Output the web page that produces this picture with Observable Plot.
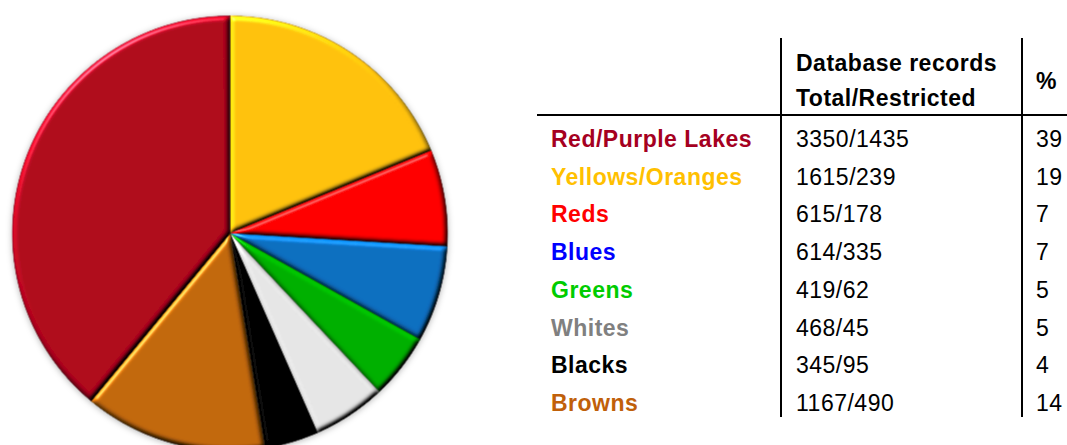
<!DOCTYPE html>
<html>
<head>
<meta charset="utf-8">
<script src="https://cdn.jsdelivr.net/npm/d3@7"></script>
<script src="https://cdn.jsdelivr.net/npm/@observablehq/plot@0.6"></script>
<style>
  html, body { margin: 0; padding: 0; background: #fff; }
  #root { position: relative; width: 1067px; height: 445px; overflow: hidden; font-family: "Liberation Sans", Arial, sans-serif; }
  #pie { position: absolute; left: 0; top: 0; }
  .t { position: absolute; font-size: 23px; line-height: 24px; letter-spacing: 0.5px; white-space: nowrap; color: #000; }
  .b { font-weight: bold; }
  .vl { position: absolute; width: 2px; background: #000; }
  .hl { position: absolute; height: 2px; background: #000; }
</style>
</head>
<body>
<div id="root"><div id="pie"></div></div>
<script>
// ---- data ----
const categories = ["Red/Purple Lakes", "Yellows/Oranges", "Reds", "Blues", "Greens", "Whites", "Blacks", "Browns"];
const totals = [3350, 1615, 615, 614, 419, 468, 345, 1167];
const restricted = [1435, 239, 178, 335, 62, 45, 95, 490];
const percents = [39, 19, 7, 7, 5, 5, 4, 14];
const labelColors = ["#A50021", "#FFC000", "#FF0000", "#0000FF", "#00CC00", "#808080", "#000000", "#C0600A"];
const sliceColors = ["#B0061E", "#FFC20E", "#FF0000", "#0A6EC0", "#00B000", "#E6E6E6", "#050505", "#C2680A"];
const pieOrder = ["Yellows/Oranges", "Reds", "Blues", "Greens", "Whites", "Blacks", "Browns", "Red/Purple Lakes"];
const headerCol1 = ["Database records", "Total/Restricted"];
const headerCol2 = "%";

// ---- pie geometry from the values ----
const grand = d3.sum(totals);
const points = [];
let cum = 0;
for (const name of pieOrder) {
  const i = categories.indexOf(name);
  const a0 = cum / grand * 2 * Math.PI;
  cum += totals[i];
  const a1 = cum / grand * 2 * Math.PI;
  const fill = sliceColors[i];
  const stroke = d3.color(fill).darker(0.9).formatHex();
  points.push({name, x: 0, y: 0, fill, stroke});
  const n = Math.max(2, Math.ceil((a1 - a0) / (Math.PI / 360)));
  for (let k = 0; k <= n; k++) {
    const a = a0 + (a1 - a0) * k / n;
    points.push({name, x: Math.sin(a), y: Math.cos(a), fill, stroke});
  }
}

const W = 460, H = 445, cx = 229.5, cy = 233, R = 217.5;
const svg = Plot.plot({
  width: W, height: H, margin: 0,
  x: {domain: [-cx / R, (W - cx) / R], axis: null},
  y: {domain: [-(H - cy) / R, cy / R], axis: null},
  color: {type: "identity"},
  marks: [
    Plot.line(points, {x: "x", y: "y", z: "name", fill: "fill", stroke: "stroke", strokeWidth: 0.8, curve: "linear-closed"})
  ]
});

// bevel / shadow effects
const NS = "http://www.w3.org/2000/svg";
const defs = document.createElementNS(NS, "defs");
defs.innerHTML = `
<filter id="bevel" x="-5%" y="-5%" width="110%" height="110%" color-interpolation-filters="sRGB">
  <feGaussianBlur in="SourceAlpha" stdDeviation="2.6" result="blur"/>
  <feDiffuseLighting in="blur" surfaceScale="3" diffuseConstant="1" lighting-color="#ffffff" result="diff">
    <feDistantLight azimuth="235" elevation="40"/>
  </feDiffuseLighting>
  <feComposite in="SourceGraphic" in2="diff" operator="arithmetic" k1="1.55" k2="0" k3="0" k4="0" result="shaded"/>
  <feSpecularLighting in="blur" surfaceScale="3" specularConstant="0.5" specularExponent="50" lighting-color="#ffffff" result="spec">
    <feDistantLight azimuth="235" elevation="40"/>
  </feSpecularLighting>
  <feComposite in="spec" in2="SourceAlpha" operator="in" result="specIn"/>
  <feComposite in="shaded" in2="specIn" operator="arithmetic" k1="0" k2="1" k3="1" k4="0" result="lit"/>
  <feComposite in="lit" in2="SourceAlpha" operator="in"/>
</filter>
<filter id="shadow" x="-10%" y="-10%" width="120%" height="120%">
  <feDropShadow dx="0" dy="1" stdDeviation="3" flood-color="#000" flood-opacity="0.3"/>
</filter>`;
svg.insertBefore(defs, svg.firstChild);
const paths = svg.querySelectorAll("path");
paths.forEach(p => p.setAttribute("filter", "url(#bevel)"));
if (paths.length) paths[0].parentNode.setAttribute("filter", "url(#shadow)");
document.getElementById("pie").appendChild(svg);

// ---- table ----
const root = document.getElementById("root");
function addText(txt, left, centerY, cls, color) {
  const d = document.createElement("div");
  d.className = "t " + (cls || "");
  d.textContent = txt;
  d.style.left = left + "px";
  d.style.top = (centerY - 12) + "px";
  if (color) d.style.color = color;
  root.appendChild(d);
}
function addLine(cls, left, top, len) {
  const d = document.createElement("div");
  d.className = cls;
  d.style.left = left + "px";
  d.style.top = top + "px";
  if (cls === "vl") d.style.height = len + "px"; else d.style.width = len + "px";
  root.appendChild(d);
}
const colLabel = 551, colRec = 796, colPct = 1036;
const row0 = 139, rowStep = 37.7;
addText(headerCol1[0], colRec, 63, "b");
addText(headerCol1[1], colRec, 98, "b");
addText(headerCol2, colPct, 81, "b");
categories.forEach((c, i) => {
  const y = row0 + i * rowStep;
  addText(c, colLabel, y, "b", labelColors[i]);
  addText(totals[i] + "/" + restricted[i], colRec, y, "");
  addText(String(percents[i]), colPct, y, "");
});
addLine("vl", 780, 38, 379);
addLine("vl", 1021, 38, 379);
addLine("hl", 537, 114, 530);
</script>
</body>
</html>
